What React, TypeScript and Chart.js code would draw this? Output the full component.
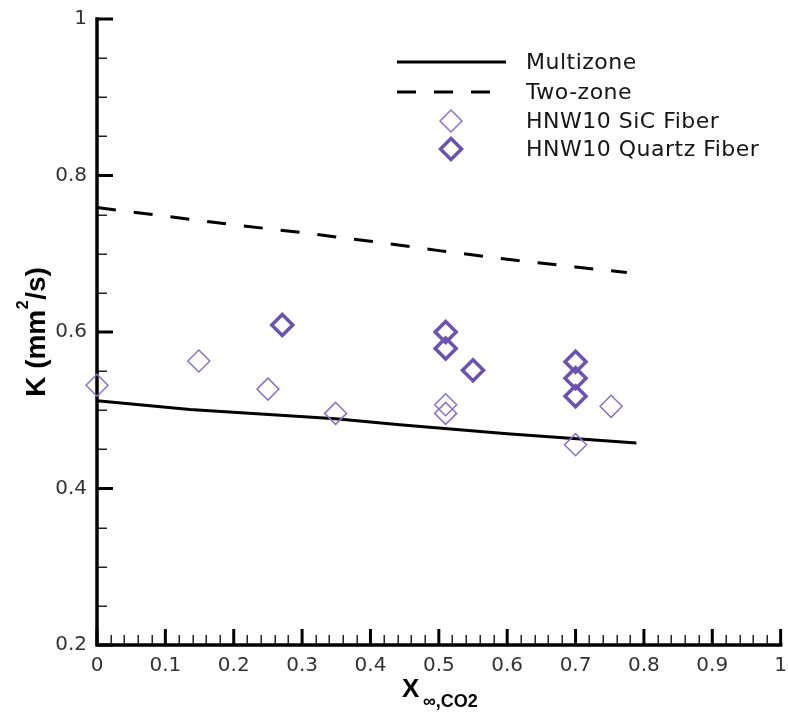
import { useEffect, useRef } from "react";
import { Chart, registerables } from "chart.js";
Chart.register(...registerables);

// ---- data ----
const multizoneX = [0, 0.136, 0.349, 0.443, 0.6, 0.789];
const multizoneY = [0.512, 0.501, 0.489, 0.4815, 0.47, 0.458];

const twoZoneX = [0, 0.1, 0.2, 0.3, 0.4, 0.5, 0.6, 0.7, 0.775];
const twoZoneY = [0.759, 0.748, 0.737, 0.727, 0.716, 0.704, 0.693, 0.683, 0.676];

const sicX = [0, 0.149, 0.25, 0.349, 0.51, 0.51, 0.7, 0.752];
const sicY = [0.532, 0.563, 0.527, 0.496, 0.507, 0.496, 0.456, 0.505];

const quartzX = [0.271, 0.51, 0.51, 0.55, 0.7, 0.7, 0.7];
const quartzY = [0.609, 0.6, 0.579, 0.551, 0.562, 0.541, 0.518];

const xTickLabels = ["0", "0.1", "0.2", "0.3", "0.4", "0.5", "0.6", "0.7", "0.8", "0.9", "1"];
const yTickLabels = ["0.2", "0.4", "0.6", "0.8", "1"];

const seriesNames = ["Multizone", "Two-zone", "HNW10 SiC Fiber", "HNW10 Quartz Fiber"];

const SIC_COLOR = "#8a72c6";
const QUARTZ_COLOR = "#6a53b0";

const zip = (xs: number[], ys: number[]) => xs.map((x, i) => ({ x, y: ys[i] }));

function diamond(ctx: CanvasRenderingContext2D, cx: number, cy: number, r: number) {
  ctx.beginPath();
  ctx.moveTo(cx - r, cy);
  ctx.lineTo(cx, cy - r);
  ctx.lineTo(cx + r, cy);
  ctx.lineTo(cx, cy + r);
  ctx.closePath();
  ctx.stroke();
}

const axesPlugin = {
  id: "axesTicks",
  beforeDatasetsDraw(chart: any) {
    const { ctx, chartArea, scales } = chart;
    const { left, right, top, bottom } = chartArea;
    const xs = scales.x;
    const ys = scales.y;
    ctx.save();
    ctx.lineCap = "butt";
    // minor x ticks
    ctx.strokeStyle = "#222";
    ctx.lineWidth = 1.5;
    for (let i = 0; i <= 50; i++) {
      if (i % 5 === 0) continue;
      const px = Math.round(xs.getPixelForValue(i / 50)) + 0.25;
      ctx.beginPath();
      ctx.moveTo(px, bottom);
      ctx.lineTo(px, bottom - 10);
      ctx.stroke();
    }
    // minor y ticks
    for (let i = 4; i <= 20; i++) {
      if (i % 4 === 0) continue;
      const py = Math.round(ys.getPixelForValue(i / 20)) + 0.25;
      ctx.beginPath();
      ctx.moveTo(left, py);
      ctx.lineTo(left + 10, py);
      ctx.stroke();
    }
    // major ticks
    ctx.strokeStyle = "#000";
    ctx.lineWidth = 3;
    for (let i = 0; i <= 10; i++) {
      const px = xs.getPixelForValue(i / 10);
      ctx.beginPath();
      ctx.moveTo(px, bottom);
      ctx.lineTo(px, bottom - 16);
      ctx.stroke();
    }
    for (let i = 1; i <= 5; i++) {
      const py = ys.getPixelForValue(i / 5);
      ctx.beginPath();
      ctx.moveTo(left, py);
      ctx.lineTo(left + 16, py);
      ctx.stroke();
    }
    // axis lines
    ctx.lineWidth = 3.5;
    ctx.lineCap = "square";
    ctx.beginPath();
    ctx.moveTo(left, top);
    ctx.lineTo(left, bottom);
    ctx.lineTo(right, bottom);
    ctx.stroke();
    ctx.restore();
  },
  afterDraw(chart: any) {
    const { ctx } = chart;
    ctx.save();
    // ---- legend ----
    const lx0 = 397;
    const lx1 = 506;
    const tx = 526;
    const rows = [62, 92, 121, 149];
    ctx.strokeStyle = "#000";
    ctx.lineWidth = 3;
    ctx.beginPath();
    ctx.moveTo(lx0, rows[0]);
    ctx.lineTo(lx1, rows[0]);
    ctx.stroke();
    ctx.setLineDash([19, 18]);
    ctx.beginPath();
    ctx.moveTo(lx0, rows[1]);
    ctx.lineTo(491, rows[1]);
    ctx.stroke();
    ctx.setLineDash([]);
    ctx.strokeStyle = SIC_COLOR;
    ctx.lineWidth = 1.5;
    diamond(ctx, 451, rows[2], 11);
    ctx.strokeStyle = QUARTZ_COLOR;
    ctx.lineWidth = 3.5;
    diamond(ctx, 451, rows[3], 10.5);
    ctx.fillStyle = "#151515";
    ctx.font = "22px 'DejaVu Sans'";
    (ctx as any).letterSpacing = "0.5px";
    ctx.textAlign = "left";
    ctx.textBaseline = "middle";
    seriesNames.forEach((n, i) => ctx.fillText(n, tx, rows[i] + 1));
    (ctx as any).letterSpacing = "0px";

    // ---- axis titles ----
    ctx.fillStyle = "#000";
    ctx.textBaseline = "alphabetic";
    // x title
    ctx.font = "bold 26px 'Liberation Sans'";
    ctx.fillText("X", 402, 697);
    ctx.font = "bold 18px 'Liberation Sans'";
    ctx.fillText("\u221E,CO2", 423, 707);
    // y title
    const big = "bold 28px 'Liberation Sans'";
    const small = "bold 16px 'Liberation Sans'";
    ctx.font = big;
    const w1 = ctx.measureText("K (mm").width;
    const w3 = ctx.measureText("/s)").width;
    ctx.font = small;
    const w2 = ctx.measureText("2").width + 1;
    const total = w1 + w2 + w3;
    ctx.translate(45, 332 + total / 2);
    ctx.rotate(-Math.PI / 2);
    ctx.font = big;
    ctx.fillText("K (mm", 0, 0);
    ctx.font = small;
    ctx.fillText("2", w1 + 0.5, -17);
    ctx.font = big;
    ctx.fillText("/s)", w1 + w2, 0);
    ctx.restore();
  },
};

export default function App() {
  const ref = useRef<HTMLCanvasElement>(null);
  useEffect(() => {
    const chart = new Chart(ref.current!, {
      type: "scatter",
      data: {
        datasets: [
          {
            label: seriesNames[0],
            data: zip(multizoneX, multizoneY),
            showLine: true,
            borderColor: "#000",
            borderWidth: 3,
            pointRadius: 0,
            tension: 0,
            order: 3,
            clip: false,
          } as any,
          {
            label: seriesNames[1],
            data: zip(twoZoneX, twoZoneY),
            showLine: true,
            borderColor: "#000",
            borderWidth: 3,
            borderDash: [19, 18],
            pointRadius: 0,
            tension: 0,
            order: 3,
            clip: false,
          },
          {
            label: seriesNames[2],
            data: zip(sicX, sicY),
            pointStyle: "rectRot",
            pointRadius: 11,
            pointBorderWidth: 1.5,
            pointBorderColor: SIC_COLOR,
            pointBackgroundColor: "rgba(0,0,0,0)",
            order: 2,
            clip: false,
          },
          {
            label: seriesNames[3],
            data: zip(quartzX, quartzY),
            pointStyle: "rectRot",
            pointRadius: 10.5,
            pointBorderWidth: 3.5,
            pointBorderColor: QUARTZ_COLOR,
            pointBackgroundColor: "rgba(0,0,0,0)",
            order: 1,
            clip: false,
          },
        ],
      },
      options: {
        animation: false,
        responsive: false,
        devicePixelRatio: 1,
        layout: { padding: { left: 0, top: 19, right: 0, bottom: 0 } },
        plugins: { legend: { display: false }, tooltip: { enabled: false } },
        scales: {
          x: {
            type: "linear",
            min: 0,
            max: 1,
            grid: { display: false, drawTicks: false },
            border: { display: false },
            ticks: {
              stepSize: 0.1,
              autoSkip: false,
              maxRotation: 0,
              padding: 9,
              color: "#333",
              font: { family: "'DejaVu Sans'", size: 20 },
              callback: (_v: any, i: number) => xTickLabels[i],
            },
            afterFit: (s: any) => {
              s.height = 71;
            },
          },
          y: {
            type: "linear",
            min: 0.2,
            max: 1,
            grid: { display: false, drawTicks: false },
            border: { display: false },
            ticks: {
              stepSize: 0.2,
              autoSkip: false,
              padding: 10,
              color: "#333",
              font: { family: "'DejaVu Sans'", size: 20 },
              callback: (_v: any, i: number) => yTickLabels[i],
            },
            afterFit: (s: any) => {
              s.width = 97;
              s.paddingTop = 0;
              s.paddingBottom = 0;
            },
          },
        },
      },
      plugins: [axesPlugin],
    });
    return () => chart.destroy();
  }, []);
  return (
    <div style={{ position: "absolute", left: 0, top: 0, width: 788, height: 716, overflow: "hidden", background: "#fff" }}>
      <canvas ref={ref} width={796} height={716} style={{ display: "block" }} />
    </div>
  );
}
